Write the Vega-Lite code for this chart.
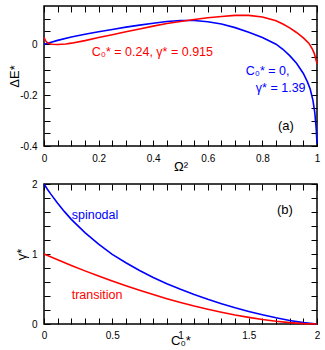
{
  "$schema": "https://vega.github.io/schema/vega-lite/v6.json",
  "padding": {"left": 8, "top": 4, "right": 8, "bottom": 4},
  "autosize": {"type": "pad"},
  "spacing": 38,
  "bounds": "flush",
  "config": {
    "view": {"stroke": "black", "strokeWidth": 1.5},
    "axis": {"grid": false, "domain": false, "tickColor": "#000000", "tickWidth": 1, "tickSize": 6, "offset": -6, "labelFont": "Liberation Sans", "labelFontSize": 10, "labelColor": "black", "titleFont": "Liberation Sans", "titleFontSize": 13, "titleFontWeight": "normal", "titleColor": "black", "labelFlush": false, "labelOverlap": false, "labelPadding": 7},
    "text": {"font": "Liberation Sans"}
  },
  "datasets": {
    "topLines": [
      {"omega2": 0, "dE": 0, "series": "C0=0"},
      {"omega2": 0.02, "dE": 0.006, "series": "C0=0"},
      {"omega2": 0.05, "dE": 0.015, "series": "C0=0"},
      {"omega2": 0.1, "dE": 0.028, "series": "C0=0"},
      {"omega2": 0.15, "dE": 0.039, "series": "C0=0"},
      {"omega2": 0.2, "dE": 0.049, "series": "C0=0"},
      {"omega2": 0.25, "dE": 0.058, "series": "C0=0"},
      {"omega2": 0.3, "dE": 0.067, "series": "C0=0"},
      {"omega2": 0.35, "dE": 0.075, "series": "C0=0"},
      {"omega2": 0.4, "dE": 0.082, "series": "C0=0"},
      {"omega2": 0.45, "dE": 0.089, "series": "C0=0"},
      {"omega2": 0.5, "dE": 0.093, "series": "C0=0"},
      {"omega2": 0.55, "dE": 0.093, "series": "C0=0"},
      {"omega2": 0.6, "dE": 0.088, "series": "C0=0"},
      {"omega2": 0.65, "dE": 0.079, "series": "C0=0"},
      {"omega2": 0.7, "dE": 0.065, "series": "C0=0"},
      {"omega2": 0.75, "dE": 0.047, "series": "C0=0"},
      {"omega2": 0.8, "dE": 0.026, "series": "C0=0"},
      {"omega2": 0.85, "dE": 0.0, "series": "C0=0"},
      {"omega2": 0.875, "dE": -0.02, "series": "C0=0"},
      {"omega2": 0.9, "dE": -0.045, "series": "C0=0"},
      {"omega2": 0.925, "dE": -0.075, "series": "C0=0"},
      {"omega2": 0.95, "dE": -0.115, "series": "C0=0"},
      {"omega2": 0.965, "dE": -0.148, "series": "C0=0"},
      {"omega2": 0.975, "dE": -0.176, "series": "C0=0"},
      {"omega2": 0.985, "dE": -0.22, "series": "C0=0"},
      {"omega2": 0.992, "dE": -0.27, "series": "C0=0"},
      {"omega2": 0.997, "dE": -0.33, "series": "C0=0"},
      {"omega2": 1.0, "dE": -0.39, "series": "C0=0"},
      {"omega2": 0, "dE": 0.026, "series": "C0=0.24"},
      {"omega2": 0.005, "dE": 0.015, "series": "C0=0.24"},
      {"omega2": 0.01, "dE": 0.008, "series": "C0=0.24"},
      {"omega2": 0.02, "dE": 0.002, "series": "C0=0.24"},
      {"omega2": 0.03, "dE": 0.0, "series": "C0=0.24"},
      {"omega2": 0.05, "dE": -0.001, "series": "C0=0.24"},
      {"omega2": 0.08, "dE": 0.001, "series": "C0=0.24"},
      {"omega2": 0.1, "dE": 0.004, "series": "C0=0.24"},
      {"omega2": 0.15, "dE": 0.014, "series": "C0=0.24"},
      {"omega2": 0.2, "dE": 0.026, "series": "C0=0.24"},
      {"omega2": 0.25, "dE": 0.037, "series": "C0=0.24"},
      {"omega2": 0.3, "dE": 0.049, "series": "C0=0.24"},
      {"omega2": 0.35, "dE": 0.06, "series": "C0=0.24"},
      {"omega2": 0.4, "dE": 0.071, "series": "C0=0.24"},
      {"omega2": 0.45, "dE": 0.081, "series": "C0=0.24"},
      {"omega2": 0.5, "dE": 0.089, "series": "C0=0.24"},
      {"omega2": 0.55, "dE": 0.097, "series": "C0=0.24"},
      {"omega2": 0.6, "dE": 0.104, "series": "C0=0.24"},
      {"omega2": 0.65, "dE": 0.109, "series": "C0=0.24"},
      {"omega2": 0.7, "dE": 0.113, "series": "C0=0.24"},
      {"omega2": 0.75, "dE": 0.113, "series": "C0=0.24"},
      {"omega2": 0.8, "dE": 0.107, "series": "C0=0.24"},
      {"omega2": 0.85, "dE": 0.092, "series": "C0=0.24"},
      {"omega2": 0.875, "dE": 0.079, "series": "C0=0.24"},
      {"omega2": 0.9, "dE": 0.064, "series": "C0=0.24"},
      {"omega2": 0.925, "dE": 0.046, "series": "C0=0.24"},
      {"omega2": 0.95, "dE": 0.025, "series": "C0=0.24"},
      {"omega2": 0.97, "dE": 0.004, "series": "C0=0.24"},
      {"omega2": 0.982, "dE": -0.017, "series": "C0=0.24"},
      {"omega2": 0.99, "dE": -0.036, "series": "C0=0.24"},
      {"omega2": 1.0, "dE": -0.076, "series": "C0=0.24"}
    ],
    "topNotes": [
      {"omega2": 0.175, "dE": -0.048, "label": "C₀* = 0.24, γ* = 0.915", "series": "C0=0.24"},
      {"omega2": 0.739, "dE": -0.123, "label": "C₀* = 0,", "series": "C0=0"},
      {"omega2": 0.776, "dE": -0.189, "label": "γ* = 1.39", "series": "C0=0"}
    ],
    "topPanel": [{"omega2": 0.857, "dE": -0.338, "label": "(a)"}],
    "bottomLines": [
      {"C0": 0, "gamma": 2.0, "series": "spinodal"},
      {"C0": 0.025, "gamma": 1.925, "series": "spinodal"},
      {"C0": 0.05, "gamma": 1.855, "series": "spinodal"},
      {"C0": 0.1, "gamma": 1.725, "series": "spinodal"},
      {"C0": 0.15, "gamma": 1.605, "series": "spinodal"},
      {"C0": 0.2, "gamma": 1.495, "series": "spinodal"},
      {"C0": 0.3, "gamma": 1.305, "series": "spinodal"},
      {"C0": 0.4, "gamma": 1.14, "series": "spinodal"},
      {"C0": 0.5, "gamma": 0.995, "series": "spinodal"},
      {"C0": 0.6, "gamma": 0.875, "series": "spinodal"},
      {"C0": 0.7, "gamma": 0.765, "series": "spinodal"},
      {"C0": 0.8, "gamma": 0.665, "series": "spinodal"},
      {"C0": 0.9, "gamma": 0.575, "series": "spinodal"},
      {"C0": 1.0, "gamma": 0.495, "series": "spinodal"},
      {"C0": 1.1, "gamma": 0.42, "series": "spinodal"},
      {"C0": 1.2, "gamma": 0.352, "series": "spinodal"},
      {"C0": 1.3, "gamma": 0.29, "series": "spinodal"},
      {"C0": 1.4, "gamma": 0.232, "series": "spinodal"},
      {"C0": 1.5, "gamma": 0.18, "series": "spinodal"},
      {"C0": 1.6, "gamma": 0.132, "series": "spinodal"},
      {"C0": 1.7, "gamma": 0.088, "series": "spinodal"},
      {"C0": 1.8, "gamma": 0.05, "series": "spinodal"},
      {"C0": 1.9, "gamma": 0.02, "series": "spinodal"},
      {"C0": 2.0, "gamma": 0.0, "series": "spinodal"},
      {"C0": 0, "gamma": 1.0, "series": "transition"},
      {"C0": 0.1, "gamma": 0.917, "series": "transition"},
      {"C0": 0.2, "gamma": 0.836, "series": "transition"},
      {"C0": 0.3, "gamma": 0.759, "series": "transition"},
      {"C0": 0.4, "gamma": 0.684, "series": "transition"},
      {"C0": 0.5, "gamma": 0.613, "series": "transition"},
      {"C0": 0.6, "gamma": 0.545, "series": "transition"},
      {"C0": 0.7, "gamma": 0.481, "series": "transition"},
      {"C0": 0.8, "gamma": 0.42, "series": "transition"},
      {"C0": 0.9, "gamma": 0.362, "series": "transition"},
      {"C0": 1.0, "gamma": 0.308, "series": "transition"},
      {"C0": 1.1, "gamma": 0.257, "series": "transition"},
      {"C0": 1.2, "gamma": 0.211, "series": "transition"},
      {"C0": 1.3, "gamma": 0.168, "series": "transition"},
      {"C0": 1.4, "gamma": 0.129, "series": "transition"},
      {"C0": 1.5, "gamma": 0.095, "series": "transition"},
      {"C0": 1.6, "gamma": 0.065, "series": "transition"},
      {"C0": 1.7, "gamma": 0.04, "series": "transition"},
      {"C0": 1.8, "gamma": 0.02, "series": "transition"},
      {"C0": 1.9, "gamma": 0.006, "series": "transition"},
      {"C0": 2.0, "gamma": 0.0, "series": "transition"}
    ],
    "bottomNotes": [
      {"C0": 0.203, "gamma": 1.5, "label": "spinodal", "series": "spinodal"},
      {"C0": 0.203, "gamma": 0.36, "label": "transition", "series": "transition"}
    ],
    "bottomPanel": [{"C0": 1.707, "gamma": 1.574, "label": "(b)"}]
  },
  "vconcat": [
    {
      "width": 273,
      "height": 140,
      "resolve": {"axis": {"x": "independent", "y": "independent"}},
      "layer": [
        {
          "data": {"name": "topLines"},
          "mark": {"type": "line", "strokeWidth": 1.6},
          "encoding": {
            "x": {"field": "omega2", "type": "quantitative", "scale": {"domain": [0, 1], "nice": false, "zero": false},
              "axis": {"orient": "bottom", "values": [0,0.05,0.1,0.15,0.2,0.25,0.3,0.35,0.4,0.45,0.5,0.55,0.6,0.65,0.7,0.75,0.8,0.85,0.9,0.95,1],
                "labelExpr": "abs(datum.value/0.2 - round(datum.value/0.2)) < 1e-6 ? format(datum.value, '~g') : ''",
                "title": "Ω²", "titlePadding": -3}},
            "y": {"field": "dE", "type": "quantitative", "scale": {"domain": [-0.4, 0.15], "nice": false, "zero": false},
              "axis": {"orient": "left", "values": [-0.4,-0.35,-0.3,-0.25,-0.2,-0.15,-0.1,-0.05,0,0.05,0.1],
                "labelExpr": "abs(datum.value/0.2 - round(datum.value/0.2)) < 1e-6 ? (datum.value < 0 ? '-' : '') + format(abs(datum.value), '~g') : ''",
                "title": "ΔE*", "titlePadding": -2}},
            "color": {"field": "series", "type": "nominal", "scale": {"domain": ["C0=0.24", "C0=0"], "range": ["#ff0000", "#0000ff"]}, "legend": null}
          }
        },
        {
          "data": {"name": "topNotes"},
          "mark": {"type": "text", "align": "left", "baseline": "alphabetic", "fontSize": 12.5},
          "encoding": {
            "x": {"field": "omega2", "type": "quantitative",
              "axis": {"orient": "top", "values": [0,0.05,0.1,0.15,0.2,0.25,0.3,0.35,0.4,0.45,0.5,0.55,0.6,0.65,0.7,0.75,0.8,0.85,0.9,0.95,1], "labels": false, "title": null}},
            "y": {"field": "dE", "type": "quantitative",
              "axis": {"orient": "right", "values": [-0.4,-0.35,-0.3,-0.25,-0.2,-0.15,-0.1,-0.05,0,0.05,0.1], "labels": false, "title": null}},
            "text": {"field": "label", "type": "nominal"},
            "color": {"field": "series", "type": "nominal", "legend": null}
          }
        },
        {
          "data": {"name": "topPanel"},
          "mark": {"type": "text", "align": "left", "baseline": "alphabetic", "fontSize": 13, "color": "black"},
          "encoding": {
            "x": {"field": "omega2", "type": "quantitative", "axis": null},
            "y": {"field": "dE", "type": "quantitative", "axis": null},
            "text": {"field": "label", "type": "nominal"}
          }
        }
      ]
    },
    {
      "width": 273,
      "height": 140,
      "resolve": {"axis": {"x": "independent", "y": "independent"}},
      "layer": [
        {
          "data": {"name": "bottomLines"},
          "mark": {"type": "line", "strokeWidth": 1.6},
          "encoding": {
            "x": {"field": "C0", "type": "quantitative", "scale": {"domain": [0, 2], "nice": false, "zero": false},
              "axis": {"orient": "bottom", "values": [0,0.1,0.2,0.3,0.4,0.5,0.6,0.7,0.8,0.9,1,1.1,1.2,1.3,1.4,1.5,1.6,1.7,1.8,1.9,2],
                "labelExpr": "abs(datum.value/0.5 - round(datum.value/0.5)) < 1e-6 ? format(datum.value, '~g') : ''",
                "labelPadding": 6,
                "title": "C₀*", "titlePadding": -6}},
            "y": {"field": "gamma", "type": "quantitative", "scale": {"domain": [0, 2], "nice": false, "zero": false},
              "axis": {"orient": "left", "values": [0,0.2,0.4,0.6,0.8,1,1.2,1.4,1.6,1.8,2],
                "labelExpr": "abs(datum.value - round(datum.value)) < 1e-6 ? format(datum.value, '~g') : ''",
                "title": "γ*", "titlePadding": 3}},
            "color": {"field": "series", "type": "nominal", "scale": {"domain": ["transition", "spinodal"], "range": ["#ff0000", "#0000ff"]}, "legend": null}
          }
        },
        {
          "data": {"name": "bottomNotes"},
          "mark": {"type": "text", "align": "left", "baseline": "alphabetic", "fontSize": 12.5},
          "encoding": {
            "x": {"field": "C0", "type": "quantitative",
              "axis": {"orient": "top", "values": [0,0.1,0.2,0.3,0.4,0.5,0.6,0.7,0.8,0.9,1,1.1,1.2,1.3,1.4,1.5,1.6,1.7,1.8,1.9,2], "labels": false, "title": null}},
            "y": {"field": "gamma", "type": "quantitative",
              "axis": {"orient": "right", "values": [0,0.2,0.4,0.6,0.8,1,1.2,1.4,1.6,1.8,2], "labels": false, "title": null}},
            "text": {"field": "label", "type": "nominal"},
            "color": {"field": "series", "type": "nominal", "legend": null}
          }
        },
        {
          "data": {"name": "bottomPanel"},
          "mark": {"type": "text", "align": "left", "baseline": "alphabetic", "fontSize": 13, "color": "black"},
          "encoding": {
            "x": {"field": "C0", "type": "quantitative", "axis": null},
            "y": {"field": "gamma", "type": "quantitative", "axis": null},
            "text": {"field": "label", "type": "nominal"}
          }
        }
      ]
    }
  ]
}
